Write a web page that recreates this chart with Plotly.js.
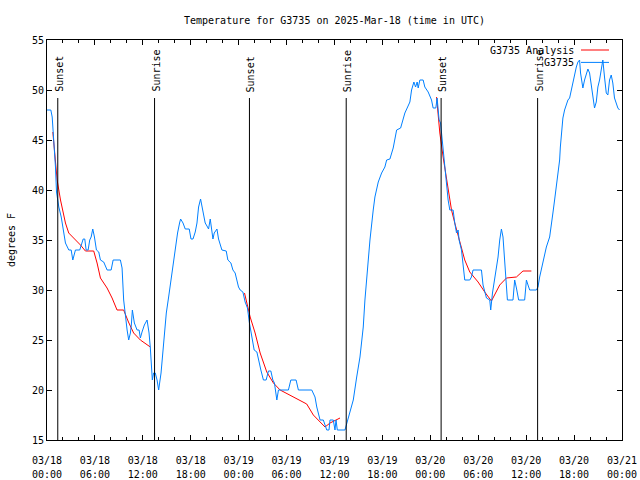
<!DOCTYPE html>
<html>
<head>
<meta charset="utf-8">
<script src="https://cdn.plot.ly/plotly-3.0.1.min.js"></script>
<style>html,body{margin:0;padding:0;background:#fff}#chart{width:640px;height:480px}</style>
</head>
<body>
<div id="chart"></div>
<script>
// Hours since 2025-03-18 00:00 UTC, observed temperature (F)
const obsHours = [0,0.48,0.65,0.78,0.94,1.06,1.19,1.48,1.78,2.03,2.31,2.73,3.03,3.23,3.56,4.1,4.53,4.73,4.9,5.15,5.35,5.53,5.73,5.94,6.19,6.48,6.69,7.1,7.53,8.03,8.28,9.19,9.4,9.6,9.73,10.03,10.23,10.44,10.56,10.69,10.94,11.28,11.53,11.69,11.9,12.19,12.53,12.78,12.94,13.06,13.19,13.35,13.56,13.78,13.98,14.28,14.53,14.69,14.94,15.23,15.53,15.73,15.94,16.15,16.35,16.6,16.73,17.03,17.31,17.81,18.03,18.28,18.56,18.78,18.98,19.23,19.4,19.6,19.81,20.03,20.23,20.44,20.65,20.78,20.94,21.28,21.48,21.9,22.44,22.65,23.03,23.28,23.56,23.78,23.98,24.19,24.53,24.81,25.1,25.35,25.65,25.94,26.28,26.48,26.78,27.1,27.44,27.73,28.03,28.28,28.48,28.78,28.98,30.23,30.53,31.19,31.48,33.15,33.56,33.78,34.19,34.6,35.03,35.31,35.44,35.85,36.06,36.19,36.35,37.31,37.53,37.94,38.35,38.78,39.19,39.6,39.81,40.44,40.65,40.85,41.06,41.28,41.48,41.9,42.31,42.53,42.94,43.35,43.56,43.78,44.28,44.53,44.81,45.1,45.44,45.65,45.94,46.15,46.35,46.48,46.69,47.1,47.31,47.73,48.15,48.35,48.69,48.85,49.1,49.28,49.4,49.6,49.81,50.03,50.23,50.44,50.85,51.06,51.28,51.48,51.6,51.9,52.1,52.31,52.94,53.15,53.35,54.4,54.6,54.81,55.03,55.44,55.56,55.78,56.06,56.28,56.48,56.69,56.9,57.1,57.31,57.53,57.65,58.35,58.56,58.78,59.06,59.81,60.03,60.23,60.44,61.28,61.48,61.69,62.1,62.53,62.94,63.15,63.35,63.56,63.78,63.98,64.19,64.28,64.48,64.6,64.81,65.23,65.44,65.65,65.85,66.06,66.28,66.48,66.69,66.81,67.03,67.1,67.31,67.73,67.94,68.15,68.35,68.56,68.78,68.98,69.19,69.4,69.6,69.81,70.03,70.23,70.44,70.65,70.85,71.06,71.48,71.69];
const obsTemp = [48,48,47.3,46,44.3,42.3,39.8,38.3,37.3,36,34.7,34,34,33,34,34,35.1,35.1,34,34,35,35.3,36.1,35.3,34,33.8,33,32.8,32,32,33,33,32.2,29,28,26,25,25.7,26.5,28,26.7,26,26,25.2,25.8,26.5,27,25.7,24.2,22.8,21,21.7,21.7,21,20,21.7,24.3,25.7,27.7,29.3,31,32.3,33.7,35,35.7,36.7,37.1,36.7,36.1,36.1,35.1,35.1,35.8,36.7,38.3,39.1,38.3,37.3,36.7,36.4,36.1,37.1,35.8,35.1,35.7,36.1,35.1,34,33.9,33,32.7,32,31.7,30.8,30.3,30,29.8,28.8,28.2,26.7,25.3,24,23.8,23,22,21,21,21.9,21.9,21,20.7,19,20,20,21,21,20,20,19.3,18.3,17,17,16,16,17,17,16,17,16,16,16.7,17.7,19,21.3,23.3,26.3,29,35,37,38,39.3,40.3,40.8,41.7,42.3,43,43.1,44.2,45,46,46.2,47,47.7,48.2,48.8,50,50.8,50.3,50.8,50.2,51,51,50.3,49.8,49,48.2,48.2,49.2,47,46.7,45.7,43.7,42.3,40.7,39,38,38,36.7,35.7,36,35,34,32.7,31,31,31.3,32,32,30.5,29.7,29.2,29,28,29.7,31.2,32,33.3,35,36.1,35.3,33,30.7,29,29,31,30.2,29,29,31,30.5,30,30,30.3,31.3,32.7,34.3,35.3,36.3,37.7,39,40.3,41.7,43,44.3,46,47.2,48,49,49.2,50,51,51.8,52.3,52.8,53,51.7,50.7,50.2,51,52.1,51.7,50.5,49.2,48.2,48.8,50.3,51,52,53,51.3,49.7,49.5,51,51.5,50.7,49.2,48.2,48];

// Analysis (three nightly segments, null = gap)
const anaHours = [0.73,1.27,1.69,2.02,2.31,2.72,3.35,4.19,4.81,5.85,6.27,6.69,7.52,8.15,8.77,9.6,10.2,10.85,11.69,12.94,
  null,
  24.73,25.44,26.06,26.69,27.52,28.35,29.19,30.85,32.52,33.35,34.81,35.44,36.69,
  null,
  48.78,49.19,49.6,50.03,50.65,51.06,51.69,52.31,52.94,53.98,54.81,55.65,56.69,57.53,58.78,59.6,60.65];
const anaTemp = [45.8,41,39,37.8,36.7,35.7,35.2,34.5,33.9,33.9,32.7,31.2,30.2,29.2,28,28,26.8,25.7,25,24.3,
  null,
  29.7,27.3,25.7,23.7,21.8,20.7,20,19.3,18.6,17.5,16.3,16.7,17.2,
  null,
  49.3,45.7,43.3,41,38,36.7,34.7,33,31.8,30.8,29.8,28.9,30.5,31.2,31.3,31.9,31.9];

const sunTimes = ['2025-03-18 01:21','2025-03-18 13:28','2025-03-19 01:21','2025-03-19 13:28','2025-03-20 01:21','2025-03-20 13:26'];
const sunLabels = ['Sunset','Sunrise','Sunset','Sunrise','Sunset','Sunrise'];
const sunLineTop = 49.2;

const seriesNames = ['G3735 Analysis','G3735'];
const seriesColors = ['#ff0000','#0080ff'];

const xRange = ['2025-03-18 00:00','2025-03-21 00:00'];

const start = Date.UTC(2025,2,18);
function toTime(h){
  if(h===null) return null;
  return new Date(start + h*3600000).toISOString().slice(0,19).replace('T',' ');
}

const FONT = 'DejaVu Sans Mono, monospace';
const tf = {family:FONT, size:10, color:'#000'};

const traces = [
  {x: anaHours.map(toTime), y: anaTemp, mode:'lines', name: seriesNames[0],
   line:{color:seriesColors[0], width:1}, connectgaps:false},
  {x: obsHours.map(toTime), y: obsTemp, mode:'lines', name: seriesNames[1],
   line:{color:seriesColors[1], width:1}},
  // carrier for the second (time-of-day) label row
  {x: [], y: [], xaxis:'x2', yaxis:'y', mode:'lines', showlegend:false, hoverinfo:'skip'}
];

const shapes = sunTimes.map(t => ({type:'line', xref:'x', yref:'y', x0:t, x1:t, y0:15, y1:sunLineTop,
  line:{color:'#000', width:1}, layer:'above'}));

const annotations = sunTimes.map((t,i) => ({x:t, y:sunLineTop, xref:'x', yref:'y', text:sunLabels[i],
  textangle:-90, showarrow:false, xanchor:'center', yanchor:'bottom', yshift:4, xshift:1, font:tf}));

// Legend (gnuplot style: text then sample)
const legendY = [0.975, 0.944];
seriesNames.forEach((n,i) => {
  annotations.push({xref:'paper', yref:'paper', x:0.9195, y:legendY[i], text:n, showarrow:false,
    xanchor:'right', yanchor:'middle', font:tf});
  shapes.push({type:'line', xref:'paper', yref:'paper', x0:0.9287, x1:0.9774, y0:legendY[i], y1:legendY[i],
    line:{color:seriesColors[i], width:1}});
});

const layout = {
  width:640, height:480,
  margin:{l:47, r:18, t:40, b:40, pad:0},
  paper_bgcolor:'#fff', plot_bgcolor:'#fff',
  showlegend:false,
  font:tf,
  title:{text:'Temperature for G3735 on 2025-Mar-18 (time in UTC)', x:0.5, xref:'paper', y:0.958, yref:'container',
    yanchor:'middle', font:tf},
  xaxis:{type:'date', range:xRange, tick0:xRange[0], dtick:21600000,
    tickformat:'%m/%d', ticks:'inside', ticklen:5, tickcolor:'#000', showline:true, linecolor:'#000',
    linewidth:1, mirror:'ticks', showgrid:false, zeroline:false, tickfont:tf, ticklabelstandoff:11,
    minor:{dtick:7200000, ticks:'inside', ticklen:3, tickcolor:'#000', showgrid:false}},
  xaxis2:{type:'date', range:xRange, tick0:xRange[0], dtick:21600000, overlaying:'x', anchor:'y', side:'bottom',
    tickformat:'%H:%M', ticks:'', showline:false, showgrid:false, zeroline:false, tickfont:tf, ticklabelstandoff:27},
  yaxis:{range:[15,55], dtick:5, ticks:'inside', ticklen:5, tickcolor:'#000', showline:true, linecolor:'#000',
    linewidth:1, mirror:'ticks', showgrid:false, zeroline:false, tickfont:tf,
    title:{text:'degrees F', standoff:14, font:tf}},
  shapes: shapes,
  annotations: annotations
};

Plotly.newPlot('chart', traces, layout, {staticPlot:true, displayModeBar:false});
</script>
</body>
</html>
